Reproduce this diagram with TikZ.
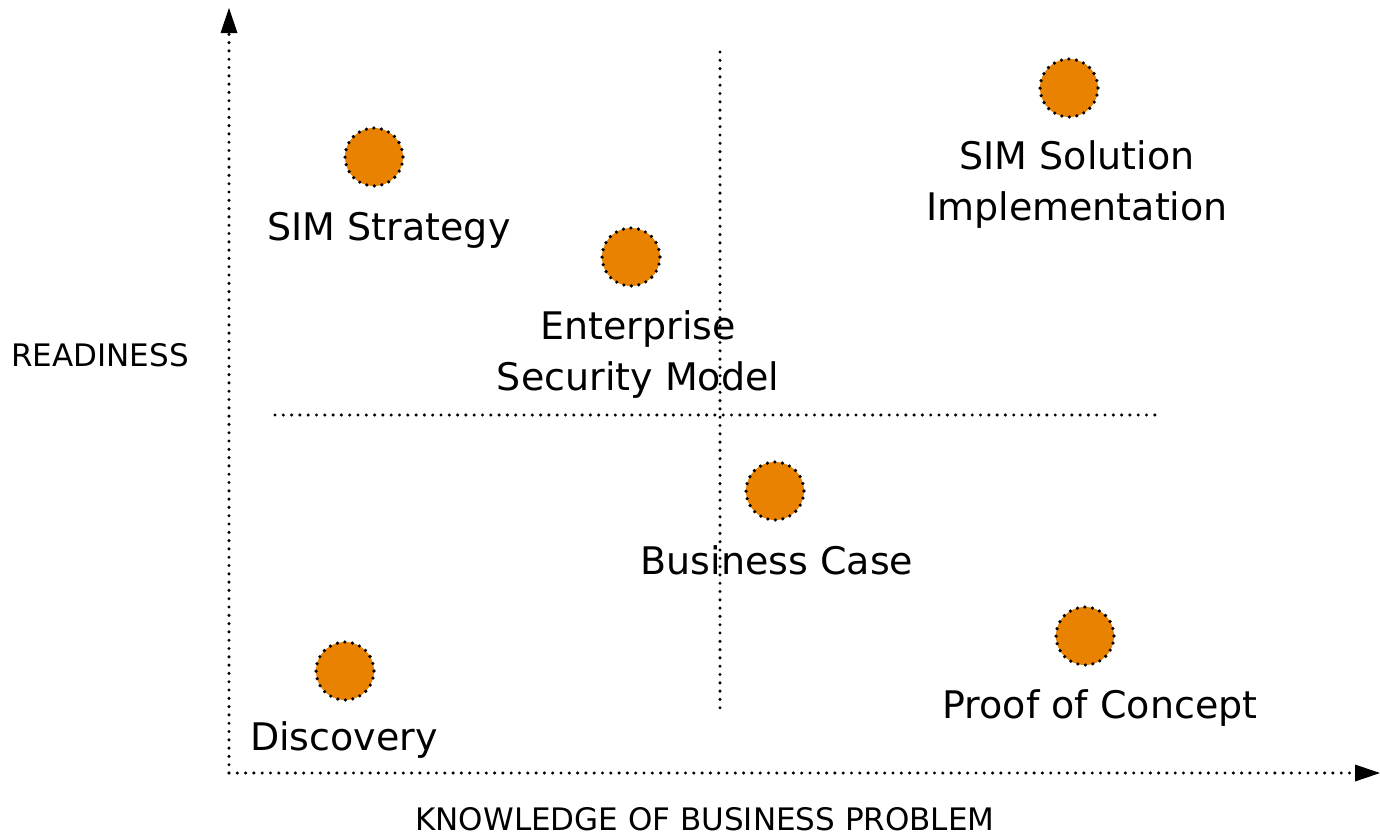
\documentclass[tikz,border=0pt]{standalone}
\usepackage{fontspec}
\setmainfont{DejaVu Sans}
\usetikzlibrary{arrows.meta}
\definecolor{dotorange}{HTML}{E88200}
\tikzset{
  dotline/.style={line width=3.4pt, line cap=round, dash pattern=on 0pt off 8.3pt},
  axis/.style={dotline, -{Triangle[length=25pt,width=17pt,line cap=butt,line width=0pt]}},
  blob/.style={circle, fill=dotorange, draw, line width=3.6pt, line cap=round, dash pattern=on 0pt off 7.6pt, minimum size=58pt, inner sep=0pt},
  lbl/.style={font=\fontsize{38}{51}\selectfont, align=center, inner sep=0pt},
  axlbl/.style={font=\fontsize{31}{36}\selectfont, inner sep=0pt}
}
\begin{document}
\begin{tikzpicture}[x=1pt,y=-1pt]
\useasboundingbox (0,0) rectangle (1380,836);
\coordinate (o) at (229,773);
\coordinate (ytop) at (229,8);
\coordinate (xend) at (1380,773);
\coordinate (vt) at (720,52);
\coordinate (vb) at (720,708);
\coordinate (hl) at (275,415);
\coordinate (hr) at (1155,415);
\draw[axis] (o) -- (ytop);
\draw[axis] (o) -- (xend);
\draw[dotline] (vt) -- (vb);
\draw[dotline] (hl) -- (hr);
\node[blob] (c1) at (374,157) {};
\node[blob] (c2) at (631,257) {};
\node[blob] (c3) at (1069,88) {};
\node[blob] (c4) at (775,491) {};
\node[blob] (c5) at (1085,636) {};
\node[blob] (c6) at (345,671) {};
\node[lbl] (t1) at (389,230) {SIM Strategy};
\node[lbl] (t2) at (638,355) {Enterprise\\Security Model};
\node[lbl] (t3) at (1077,185) {SIM Solution\\Implementation};
\node[lbl] (t4) at (777,560) {Business Case};
\node[lbl] (t5) at (1100,708) {Proof of Concept};
\node[lbl] (t6) at (344,740) {Discovery};
\node[axlbl] (ry) at (100,355) {READINESS};
\node[axlbl] (rx) at (705,819) {KNOWLEDGE OF BUSINESS PROBLEM};
\end{tikzpicture}
\end{document}
